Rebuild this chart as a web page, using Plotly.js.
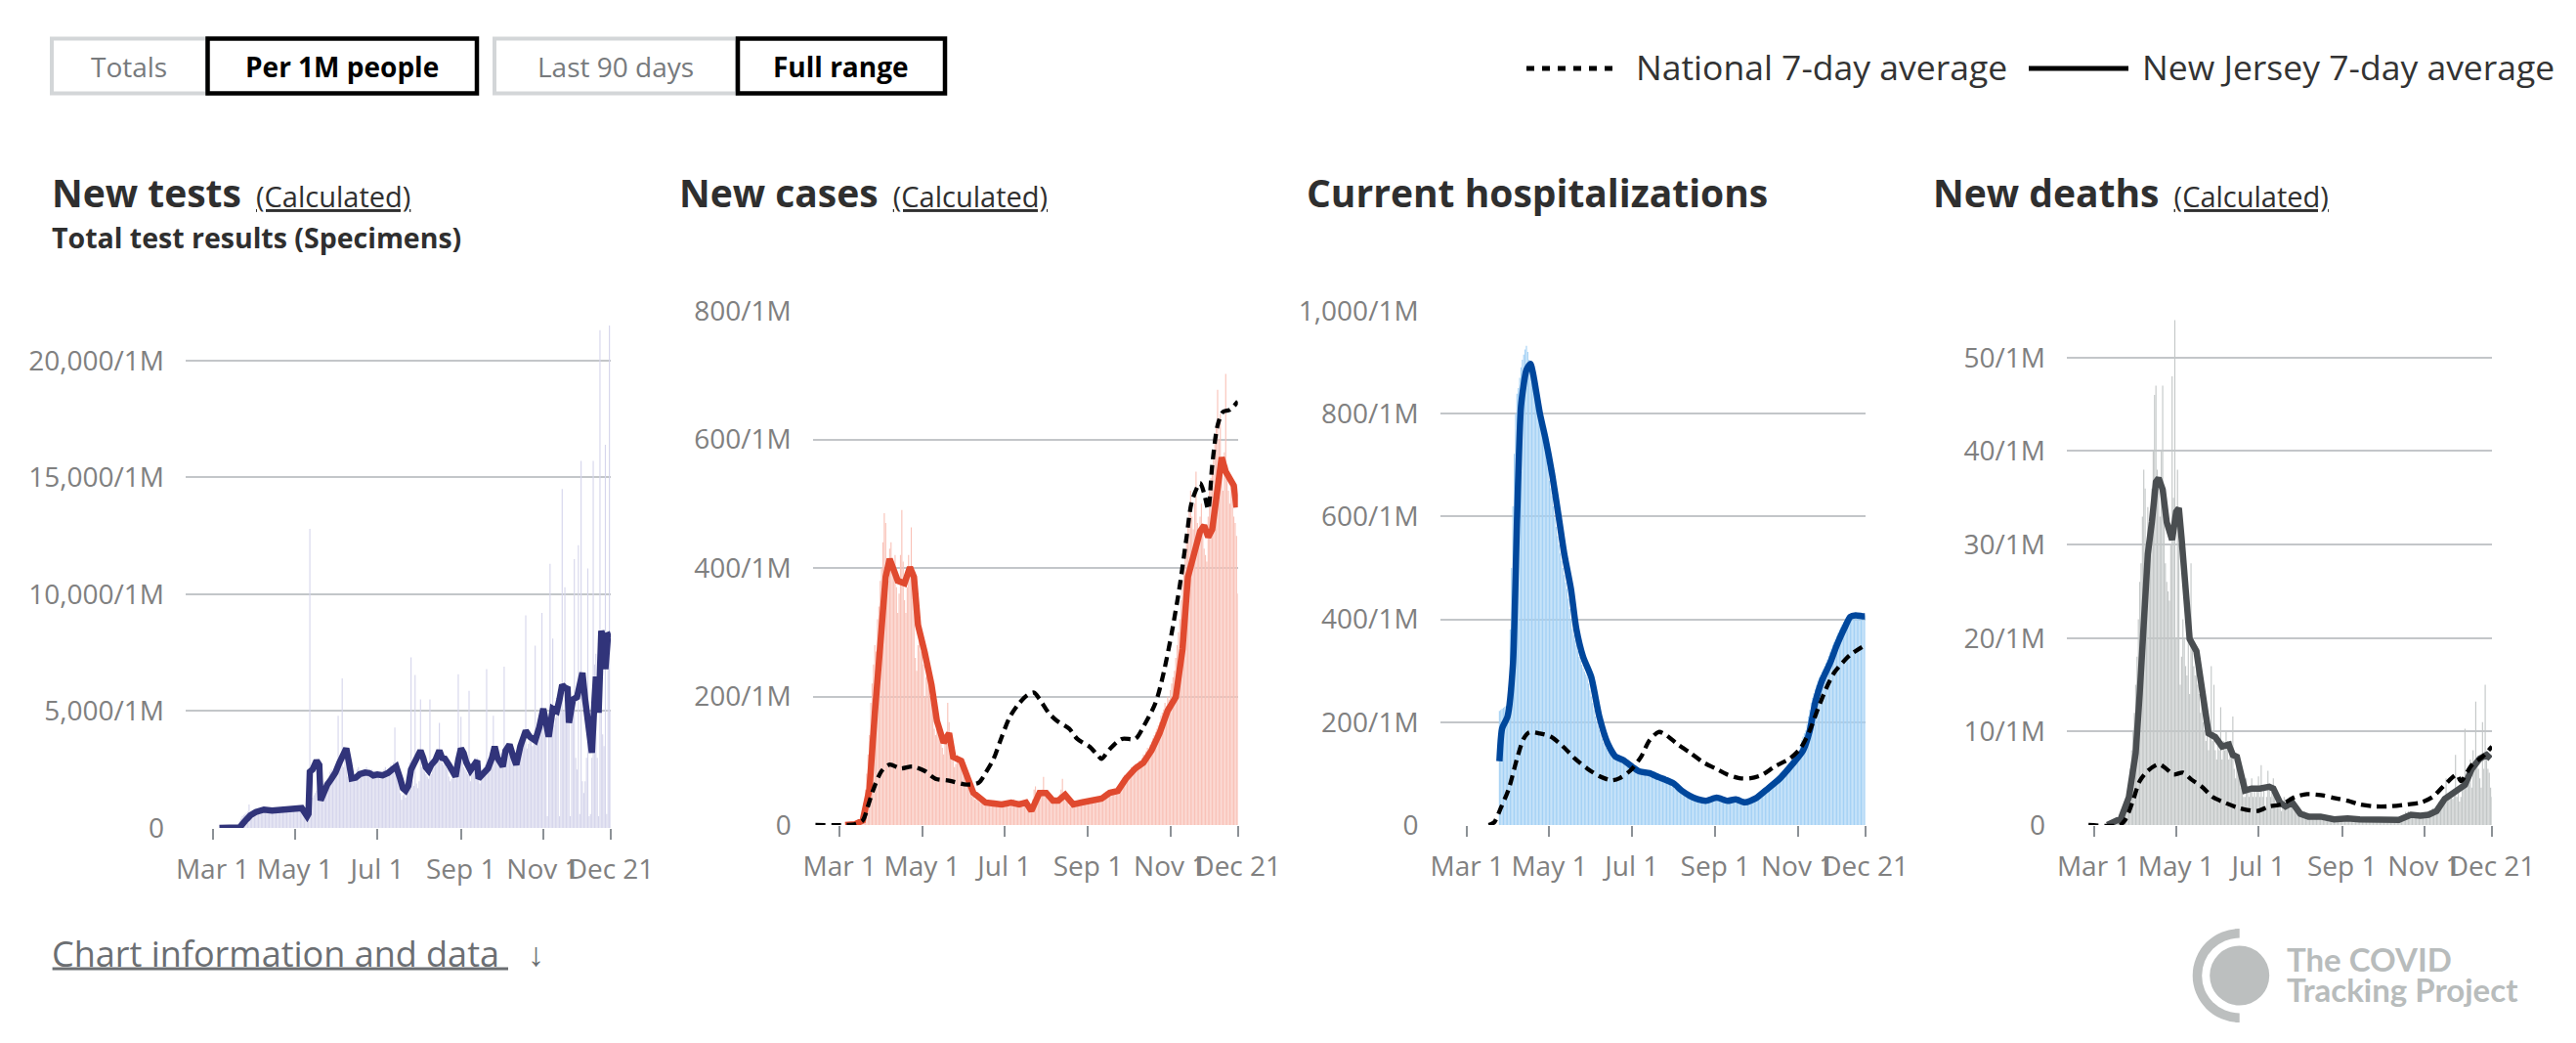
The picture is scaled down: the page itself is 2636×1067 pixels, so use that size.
<!DOCTYPE html>
<html><head><meta charset="utf-8">
<script src="https://cdn.plot.ly/plotly-3.0.1.min.js"></script>
<style>html,body{margin:0;padding:0;background:#fff;}#chart{width:2636px;height:1067px;}</style>
</head><body><div id="chart"></div>
<script>
// ---------------- DATA ----------------
const barStart = '2020-03-01'; // daily bars, Mar 1 .. Dec 21
const tickDates = ['2020-03-01','2020-05-01','2020-07-01','2020-09-01','2020-11-01','2020-12-21'];
const tickText = ['Mar 1','May 1','Jul 1','Sep 1','Nov 1','Dec 21'];

const testsYVals = [0,5000,10000,15000,20000];
const testsYText = ['0','5,000/1M','10,000/1M','15,000/1M','20,000/1M'];
const casesYVals = [0,200,400,600,800];
const casesYText = ['0','200/1M','400/1M','600/1M','800/1M'];
const hospYVals = [0,200,400,600,800,1000];
const hospYText = ['0','200/1M','400/1M','600/1M','800/1M','1,000/1M'];
const deathsYVals = [0,10,20,30,40,50];
const deathsYText = ['0','10/1M','20/1M','30/1M','40/1M','50/1M'];

const testsDaily = [
0,0,0,0,2,3,5,8,10,15,20,25,30,40,50,60,80,100,120,150,300,400,500,550,600,650,700,1000,650,700,750,
780,800,750,700,820,760,800,850,780,760,700,720,780,800,820,750,700,760,800,820,850,780,720,800,850,820,780,800,850,900,
880,900,850,820,900,950,880,800,700,400,500,12800,1200,1300,1400,1500,1600,1700,1400,1500,1800,1900,2000,1700,1600,2200,2400,2500,2200,2300,2600,
2800,4800,2900,3000,6400,2600,3000,2800,2200,2100,2000,2300,2400,2200,2100,2500,2600,2400,2200,2300,2500,2400,2600,2300,2200,2400,2500,2300,2400,2200,
2300,2200,2100,2400,2300,2500,2600,2400,2300,2500,2700,2600,2800,4300,2400,2300,2000,1500,1200,1400,1500,1300,1600,2400,2800,7300,2000,1800,6550,1900,1700,
2000,5500,2600,2700,2400,2300,2200,2100,5500,2300,2500,2800,3000,2900,3100,4500,3000,2800,2700,2900,2600,2500,2200,2000,2100,2300,2200,2100,2400,6580,2500,
4760,2900,2600,2500,2400,2300,5870,2000,2400,2600,2700,2800,3000,2200,1900,2300,2500,2600,2700,6800,2600,3000,3200,3400,4800,3300,3500,3100,2900,3000,
3200,3400,6900,3300,3100,3500,3600,3400,3200,3000,2900,3100,3300,3500,3600,3700,3800,3900,9100,3400,3600,3800,3700,3500,3600,7800,3900,4000,4200,4100,9200,
4500,4800,5000,500,4200,11300,4600,8100,4400,4700,4900,5200,500,5400,14500,5000,10300,4800,5100,5300,500,5400,5600,11500,3000,2500,12100,600,15700,2000,
1500,2000,3000,11100,500,600,3000,15700,7000,7460,3000,500,21300,5000,4000,3500,16400,600,7000,21500,5000
];
const njTestsDates = ['03-06','03-15','03-21','03-25','03-29','04-02','04-08','04-14','04-20','04-26','05-01','05-06','05-10','05-11','05-12','05-14','05-17','05-19','05-20','05-22','05-25','05-28','05-31','06-03','06-05','06-08','06-10','06-12','06-15','06-18','06-22','06-25','06-28','07-01','07-05','07-09','07-12','07-15','07-18','07-20','07-22','07-24','07-26','07-28','07-30','08-02','08-04','08-06','08-08','08-10','08-13','08-16','08-18','08-20','08-23','08-26','08-28','08-30','09-01','09-03','09-05','09-08','09-11','09-13','09-14','09-17','09-21','09-24','09-26','09-28','10-02','10-04','10-07','10-10','10-12','10-15','10-19','10-22','10-26','10-29','11-01','11-03','11-05','11-08','11-11','11-13','11-15','11-17','11-19','11-20','11-23','11-26','11-28','11-30','12-02','12-03','12-05','12-07','12-09','12-10','12-12','12-14','12-16','12-17','12-19','12-21'];
const njTestsAvg = [0,0,20,300,546,680,785,740,760,800,860,850,500,600,2400,2500,2880,2700,1180,1500,1860,2100,2370,2800,3100,3400,2800,2115,2150,2300,2370,2350,2250,2290,2250,2350,2500,2630,2100,1700,1600,1800,2500,2710,3000,3310,3000,2600,2460,2700,2900,3310,3000,2970,2700,2300,2200,2900,3400,3200,2800,2460,2700,2880,2115,2300,2540,3000,3480,3000,2630,3300,3570,3000,2710,3500,4160,3900,3740,4300,5100,4500,3900,5100,5000,5500,6120,6000,5950,4500,5500,5600,6000,6640,5500,4930,4000,3220,5500,6480,4930,8430,8000,6800,8260,8300];

const casesDaily = [
0,0,0,0,0,0,0,1,1,2,3,3,4,5,6,8,15,25,35,55,80,110,140,190,220,250,280,270,320,340,380,
400,440,485,470,360,380,430,440,400,390,420,370,330,360,420,490,410,350,330,370,420,400,463,380,350,260,240,280,300,270,
280,250,200,230,240,220,200,190,180,150,140,160,170,150,140,120,110,130,140,190,160,130,110,100,90,95,110,105,100,95,85,
80,75,70,60,55,50,45,45,40,40,38,36,35,34,36,35,33,34,36,38,34,30,33,35,32,31,30,33,34,30,
32,34,36,30,28,35,38,40,36,34,33,35,38,36,32,30,28,25,20,22,24,40,55,60,50,45,48,52,55,75,50,
48,45,40,38,35,37,40,38,36,42,48,55,72,50,45,40,35,30,28,32,30,34,36,35,33,37,38,40,36,38,40,
38,40,42,39,36,38,40,42,44,46,45,48,50,52,49,51,54,55,50,52,56,58,60,62,65,70,74,78,75,80,
82,85,90,86,88,95,92,96,100,98,104,110,108,115,120,118,125,130,135,140,145,150,155,160,170,175,180,190,185,200,195,
210,220,230,240,260,280,300,320,350,380,400,430,450,470,490,520,480,460,500,550,470,440,480,500,470,430,420,410,480,520,
540,560,580,600,620,677,600,640,560,520,580,702,560,520,500,540,520,480,470,450,360
];
const njCasesDates = ['03-05','03-12','03-18','03-23','03-27','04-01','04-04','04-07','04-10','04-13','04-18','04-22','04-25','04-28','05-03','05-08','05-12','05-17','05-21','05-24','05-30','06-04','06-08','06-17','06-29','07-06','07-12','07-17','07-21','07-27','08-01','08-06','08-10','08-15','08-21','08-27','09-05','09-11','09-17','09-23','09-29','10-06','10-12','10-18','10-24','10-30','11-05','11-10','11-14','11-19','11-23','11-26','11-29','12-02','12-06','12-09','12-12','12-15','12-18','12-20'];
const njCasesAvg = [0,1,7,56,174,299,386,414,398,380,376,401,386,311,268,218,162,128,143,106,100,69,50,35,32,35,32,35,22,50,50,38,38,47,32,35,39,41,50,53,72,88,97,116,143,178,199,274,386,429,457,466,448,460,535,572,550,541,528,494];
const natCasesDates = ['02-12','03-06','03-12','03-18','03-22','03-26','04-01','04-07','04-15','04-24','05-03','05-11','05-21','06-03','06-12','06-17','06-23','06-29','07-05','07-11','07-18','07-23','07-27','08-03','08-09','08-18','08-24','09-02','09-08','09-11','09-17','09-26','10-06','10-12','10-21','10-27','11-02','11-08','11-13','11-17','11-23','11-26','11-29','12-02','12-06','12-10','12-15','12-21'];
const natCasesAvg = [0,0,1,7,30,56,84,94,88,91,84,72,69,63,66,81,103,137,168,187,202,206,196,174,162,150,134,122,109,103,118,134,134,153,190,237,299,373,448,504,532,516,491,560,622,643,646,659];

const hospDaily = [
0,0,0,0,0,0,0,0,0,0,0,0,0,0,0,0,0,0,0,0,0,0,0,0,222,224,226,228,230,232,236,
260,380,500,620,722,800,839,850,870,890,905,915,925,932,920,905,890,875,860,845,830,815,800,785,770,755,740,725,710,695,
670,655,640,620,598,580,562,545,528,514,500,486,472,459,440,420,400,381,370,360,350,338,327,320,312,305,298,293,288,275,262,
250,237,224,211,202,193,185,176,168,160,155,150,146,141,137,133,132,131,130,128,127,126,124,122,120,118,116,114,112,110,
108,107,105,104,103,103,102,102,101,101,101,99,98,97,96,95,94,93,92,91,90,89,88,87,86,85,83,82,81,79,77,
74,71,69,67,65,63,61,60,58,57,56,55,53,52,51,50,49,49,48,48,47,47,48,49,50,51,52,53,53,53,52,
51,50,49,48,48,47,47,48,49,49,50,50,50,49,48,47,46,45,44,44,45,46,47,48,49,50,51,52,54,56,
58,60,62,64,66,68,71,73,75,78,80,82,84,86,89,91,94,97,100,103,106,109,112,115,118,121,125,128,131,135,138,
141,145,155,165,172,178,184,197,211,224,238,247,256,264,272,281,287,292,298,303,309,315,322,329,336,343,350,356,362,368,
374,380,385,390,395,398,402,405,407,408,409,410,410,411,410,409,410,411,410,409,408
];
const njHospDates = ['03-25','03-27','03-31','04-04','04-07','04-10','04-14','04-17','04-19','04-24','04-28','05-03','05-08','05-12','05-17','05-21','05-26','06-01','06-07','06-13','06-19','06-25','07-01','07-07','07-14','07-21','07-26','08-01','08-07','08-13','08-19','08-25','09-02','09-10','09-16','09-23','10-01','10-10','10-19','10-28','11-05','11-10','11-14','11-19','11-25','11-30','12-06','12-10','12-14','12-19','12-21'];
const njHospAvg = [124,188,211,312,591,815,885,897,877,800,753,683,598,528,459,381,327,288,211,160,133,126,114,104,101,93,88,81,67,57,50,47,53,47,50,44,52,71,91,118,145,184,238,281,315,350,385,405,408,406,406];
const natHospDates = ['03-17','03-21','03-26','04-01','04-07','04-12','04-16','04-24','05-02','05-11','05-20','05-29','06-07','06-16','06-22','06-30','07-08','07-14','07-21','07-26','08-04','08-13','08-23','09-01','09-10','09-19','09-27','10-06','10-15','10-26','11-03','11-10','11-16','11-22','11-28','12-04','12-10','12-21'];
const natHospAvg = [0,5,33,71,129,168,180,178,172,153,129,110,95,87,91,106,133,164,181,176,157,141,122,110,98,91,91,98,114,129,149,184,226,265,296,315,331,350];

const deathsDaily = [
0,0,0,0,0,0,0,0,0,0,0,0,0,0.1,0.2,0.3,0.3,0.5,0.8,1.0,0.8,1,1.5,2,2.5,3.5,4.5,6,8,10,12,
15,18,22,26,28,33,38,36,30,34,28,32,36,40,46,47,38,36,33,40,47,34,28,26,25,24,30,48,35,54,
20,38,30,15,18,22,20,17,16,22,14,28,20,17,16,19,15,14,12,13,11,10,9,12,8,10,17,9,15,8,7,
9,8,12.6,7,9,8,10,9,7,8,9,11.6,6,5,7,6,5,4,4,3,3,5,4,3,4,5,3,4,3,4,
5.2,3,6.4,3,4,2,3,5.8,4,3,4,5,3,2,2.5,2,2,1.5,2,3,2,1.8,2,3,2.5,2,2.8,2,1.5,1.8,1.2,
1,1.2,0.8,1.5,1,0.7,0.9,1.2,0.8,1,0.6,0.9,1.1,0.7,1,0.8,0.6,0.7,0.5,0.8,0.9,0.6,0.5,0.7,0.6,0.4,0.8,0.6,0.5,0.7,0.6,
0.6,0.8,0.5,0.7,0.6,0.5,0.9,0.6,0.7,0.4,0.6,0.8,0.5,0.6,0.7,0.5,0.6,0.8,0.4,0.6,0.7,0.5,0.6,0.8,0.5,0.6,0.7,0.5,0.6,0.6,
0.6,0.5,0.7,0.6,0.8,0.4,0.6,0.5,0.7,0.6,0.5,0.6,0.4,0.6,0.7,0.5,0.6,1.4,1.2,1.5,1.3,0.9,1,1.2,0.8,1.1,0.9,1,1.1,0.9,1.2,
1,1.2,1.4,1,1.5,1.3,1.8,1.2,1.6,2,1.8,2.5,2.2,2.8,2.4,3,5,2.6,3.2,3.5,3,2.8,3.5,7.5,3,4,2.5,3,3.8,4.5,
10.3,5,6,5.5,7,4,8,6.5,13.2,7,6,5,4,11,6,15,7,6,5.6,4,3
];
const njDeathsDates = ['03-11','03-21','03-27','04-01','04-04','04-07','04-10','04-13','04-16','04-18','04-21','04-24','04-28','05-01','05-03','05-05','05-08','05-11','05-16','05-19','05-22','05-25','05-30','06-04','06-09','06-12','06-15','06-18','06-21','06-26','07-02','07-09','07-12','07-17','07-21','07-26','08-01','08-07','08-16','08-26','09-05','09-14','09-24','10-03','10-13','10-22','10-29','11-04','11-10','11-16','11-23','11-27','12-01','12-06','12-12','12-17','12-20'];
const njDeathsAvg = [0,0.7,3.0,7.7,14.1,22.6,29.0,32.4,36.7,37.1,35.9,32.4,30.5,33.5,33.9,30.7,24.8,19.9,18.6,15.8,13.3,9.8,9.4,8.4,8.6,7.5,7.3,5.6,3.7,3.9,3.9,4.1,3.9,2.4,2.0,2.4,1.2,0.9,0.9,0.6,0.7,0.6,0.6,0.6,0.55,1.1,1.0,1.1,1.5,2.8,3.5,3.7,4.3,6.0,7.1,7.5,7.1];
const natDeathsDates = ['02-26','03-20','03-24','03-30','04-04','04-10','04-18','04-23','04-29','05-06','05-12','05-20','05-28','06-06','06-17','06-30','07-09','07-18','07-28','08-06','08-16','08-26','09-05','09-14','09-24','10-06','10-19','10-29','11-07','11-16','11-25','11-28','12-06','12-14','12-21'];
const natDeathsAvg = [0,0,0.5,2.6,4.7,5.8,6.5,6.1,5.4,5.6,4.9,4.1,3.0,2.4,1.8,1.5,2.0,2.2,3.0,3.3,3.2,2.9,2.6,2.2,2.0,2.0,2.2,2.4,3.0,4.3,5.4,4.7,6.4,7.3,8.4];

// ---------------- BUILD ----------------
const W = 2636, H = 1067;
const PX = x => x / W;
const PY = y => 1 - y / H;
function dailyDates(start, n){
  const [y,m,d] = start.split('-').map(Number);
  const out = [];
  for(let i=0;i<n;i++){ out.push(new Date(Date.UTC(y,m-1,d+i)).toISOString().slice(0,10)); }
  return out;
}
const full = arr => arr.map(s => '2020-' + s);

const FONT = 'Open Sans, sans-serif';
const TICKCOL = '#808080';
const GRIDCOL = '#c3c6c9';
const lefts = [190, 831.7, 1473.6, 2115];
const pw = 435;

const panels = [
  {bars: testsDaily, barCol:'#d6d6ec', nj:[njTestsDates,njTestsAvg], njCol:'#31347a', njShape:'linear', nat:null, top:22125, bottom:847, yv:testsYVals, yt:testsYText},
  {bars: casesDaily, barCol:'#f9c2b8', nj:[njCasesDates,njCasesAvg], njCol:'#e04a2f', njShape:'linear', nat:[natCasesDates,natCasesAvg], top:800, bottom:844, yv:casesYVals, yt:casesYText},
  {bars: hospDaily, barCol:'#a4d1f5', nj:[njHospDates,njHospAvg], njCol:'#00479c', njShape:'spline', nat:[natHospDates,natHospAvg], top:1000, bottom:844, yv:hospYVals, yt:hospYText},
  {bars: deathsDaily, barCol:'#c3c7c7', nj:[njDeathsDates,njDeathsAvg], njCol:'#4a4e51', njShape:'linear', nat:[natDeathsDates,natDeathsAvg], top:55.0, bottom:844, yv:deathsYVals, yt:deathsYText}
];

const data = [];
const layout = {
  width: W, height: H, margin:{l:0,r:0,t:0,b:0},
  paper_bgcolor:'#fff', plot_bgcolor:'rgba(0,0,0,0)',
  showlegend:false, bargap:0.18, hovermode:false,
  font:{family:FONT, color:'#333'},
  shapes:[], annotations:[]
};

panels.forEach((p,i)=>{
  const sfx = i===0 ? '' : String(i+1);
  const xa = 'x'+sfx, ya = 'y'+sfx;
  data.push({type:'bar', x: dailyDates(barStart, p.bars.length), y: p.bars, xaxis:xa, yaxis:ya,
    marker:{color:p.barCol, line:{width:0}}});
  data.push({type:'scatter', mode:'lines', x: full(p.nj[0]), y: p.nj[1], xaxis:xa, yaxis:ya,
    line:{color:p.njCol, width:6.5, shape:p.njShape, smoothing:0.6}});
  if(p.nat){
    data.push({type:'scatter', mode:'lines', x: full(p.nat[0]), y: p.nat[1], xaxis:xa, yaxis:ya,
      line:{color:'#000', width:4.3, dash:'10px,6px', shape:'spline', smoothing:0.8}});
  }
  layout['xaxis'+sfx] = {
    type:'date', domain:[PX(lefts[i]), PX(lefts[i]+pw)], range:['2020-02-10','2020-12-21'],
    anchor: ya, tickmode:'array', tickvals: tickDates, ticktext: tickText, tickangle:0,
    ticks:'outside', ticklen:11, tickwidth:2, tickcolor:'#8c9196',
    showgrid:false, zeroline:false, showline:false, fixedrange:true,
    tickfont:{family:FONT, size:28, color:TICKCOL}, ticklabelstandoff:6
  };
  layout['yaxis'+sfx] = {
    domain:[PY(p.bottom), PY(318)], range:[0,p.top], anchor: xa,
    tickmode:'array', tickvals:p.yv, ticktext:p.yt, ticks:'',
    showgrid:true, gridcolor:GRIDCOL, gridwidth:2, zeroline:false, showline:false,
    tickfont:{family:FONT, size:28, color:TICKCOL}, ticklabelstandoff:21, fixedrange:true
  };
});

// --- titles ---
const titleDefs = [
  ['New tests', true], ['New cases', true], ['Current hospitalizations', false], ['New deaths', true]
];
titleDefs.forEach((t,i)=>{
  const txt = '<b>'+t[0]+'</b>' + (t[1] ? '<span style="font-size:29px;font-weight:normal">&nbsp;&nbsp;</span><span style="font-size:29px;font-weight:normal;text-decoration:underline">(Calculated)</span>' : '');
  layout.annotations.push({xref:'paper', yref:'paper', x:PX(lefts[i]-139), y:PY(196.5), xanchor:'left', yanchor:'middle',
    text:txt, showarrow:false, font:{family:FONT, size:39, color:'#2f2f2f'}});
});
layout.annotations.push({xref:'paper', yref:'paper', x:PX(51), y:PY(243), xanchor:'left', yanchor:'middle',
  text:'<b>Total test results (Specimens)</b>', showarrow:false, font:{family:FONT, size:28.5, color:'#2f2f2f'}});

// --- toggle buttons ---
const S = layout.shapes;
const rect = (x0,x1,col,w)=>S.push({type:'rect', xref:'paper', yref:'paper', x0:PX(x0), x1:PX(x1), y0:PY(95.5), y1:PY(39.5), line:{color:col,width:w}, fillcolor:'rgba(0,0,0,0)'});
rect(53,212,'#d3d6d8',4); rect(506,754,'#d3d6d8',4);
rect(212.5,488,'#000',4.5); rect(755,967,'#000',4.5);
const btn = (x,txt,bold)=>layout.annotations.push({xref:'paper', yref:'paper', x:PX(x), y:PY(68), xanchor:'center', yanchor:'middle',
  text: bold ? '<b>'+txt+'</b>' : txt, showarrow:false, font:{family:FONT, size:28, color: bold ? '#000' : '#777a7d'}});
btn(132,'Totals',false); btn(350,'Per 1M people',true); btn(629.5,'Last 90 days',false); btn(860,'Full range',true);

// --- legend ---
S.push({type:'line', xref:'paper', yref:'paper', x0:PX(1562), x1:PX(1658), y0:PY(70), y1:PY(70), line:{color:'#000', width:5, dash:'8px,8px'}});
S.push({type:'line', xref:'paper', yref:'paper', x0:PX(2076), x1:PX(2178), y0:PY(70), y1:PY(70), line:{color:'#000', width:5}});
layout.annotations.push({xref:'paper', yref:'paper', x:PX(1672), y:PY(68), xanchor:'left', yanchor:'middle',
  text:'National 7-day average', showarrow:false, font:{family:FONT, size:35.5, color:'#333'}});
layout.annotations.push({xref:'paper', yref:'paper', x:PX(2190), y:PY(68), xanchor:'left', yanchor:'middle',
  text:'New Jersey 7-day average', showarrow:false, font:{family:FONT, size:35.5, color:'#333'}});

// --- footer link ---
layout.annotations.push({xref:'paper', yref:'paper', x:PX(51), y:PY(975), xanchor:'left', yanchor:'middle',
  text:'Chart information and data', showarrow:false, font:{family:FONT, size:36, color:'#6b6e72'}});
layout.annotations.push({xref:'paper', yref:'paper', x:PX(538), y:PY(975), xanchor:'left', yanchor:'middle',
  text:'↓', showarrow:false, font:{family:FONT, size:34, color:'#6b6e72'}});
S.push({type:'line', xref:'paper', yref:'paper', x0:PX(53.6), x1:PX(520), y0:PY(991), y1:PY(991), line:{color:'#6b6e72', width:3}});

// --- logo ---
const cx = 2291.7, cy = 998, LG = '#bcbfbf';
const circ = (r,col)=>S.push({type:'circle', xref:'paper', yref:'paper', x0:PX(cx-r), x1:PX(cx+r), y0:PY(cy+r), y1:PY(cy-r), fillcolor:col, line:{width:0}});
circ(48, LG); circ(38.5, '#fff');
S.push({type:'rect', xref:'paper', yref:'paper', x0:PX(cx), x1:PX(cx+50), y0:PY(cy+50), y1:PY(cy-50), fillcolor:'#fff', line:{width:0}});
circ(30.5, LG);
layout.annotations.push({xref:'paper', yref:'paper', x:PX(2338), y:PY(981), xanchor:'left', yanchor:'middle',
  text:'<b>The COVID</b>', showarrow:false, font:{family:'Lato, sans-serif', size:33, color:'#b8bcbc'}});
layout.annotations.push({xref:'paper', yref:'paper', x:PX(2338), y:PY(1012), xanchor:'left', yanchor:'middle',
  text:'<b>Tracking Project</b>', showarrow:false, font:{family:'Lato, sans-serif', size:33, color:'#b8bcbc'}});

Plotly.newPlot('chart', data, layout, {staticPlot:true, displayModeBar:false});
</script>
</body></html>
